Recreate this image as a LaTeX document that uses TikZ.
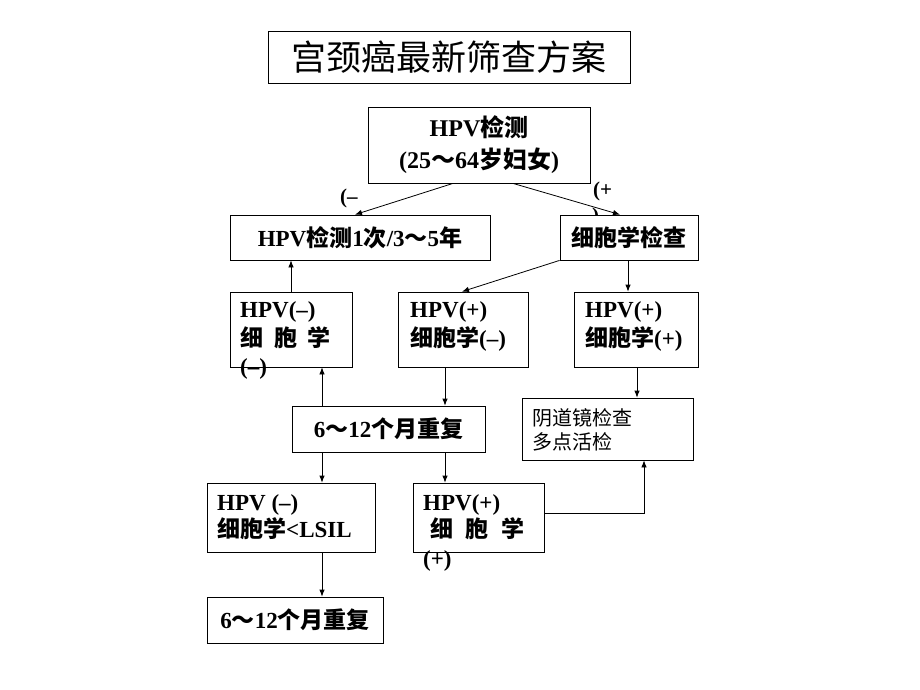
\documentclass[tikz,border=0pt]{standalone}
\usepackage{fontspec}
\setmainfont{Liberation Serif}
\newfontfamily\cjk{Noto Sans CJK SC}
\usetikzlibrary{arrows.meta}
\newcommand\zhs[1]{{\cjk #1}}
\tikzset{
  box/.style={draw, line width=0.8pt, fill=white, inner sep=0pt, align=center,
    font=\bfseries\fontsize{23}{29}\selectfont},
  txt/.style={anchor=base west, inner sep=0pt, font=\bfseries\fontsize{23}{29}\selectfont},
  lbl/.style={anchor=base west, inner sep=0pt, font=\bfseries\fontsize{21}{24}\selectfont},
  arr/.style={line width=0.8pt, -{Latex[length=7pt,width=5.5pt]}},
  ln/.style={line width=0.8pt}
}
\begin{document}
\begin{tikzpicture}[x=1pt,y=-1pt]
\useasboundingbox[fill=white] (0,0) rectangle (920,690);
% partial parenthesis peeking above box
\node[lbl] (pp) at (592,222) {)};
% boxes
\node[box, minimum width=362pt, minimum height=52pt, font=\fontsize{35}{40}\selectfont] (title) at (449,57) {\zhs{宫颈癌最新筛查方案}};
\node[box, minimum width=222pt, minimum height=76pt, font=\bfseries\fontsize{24}{32}\selectfont] (top) at (479,145) {HPV\zhs{检测}\\(25\zhs{～}64\zhs{岁妇女})};
\node[box, minimum width=260pt, minimum height=45pt] (b1) at (360,237.5) {HPV\zhs{检测}1\zhs{次}/3\zhs{～}5\zhs{年}};
\node[box, minimum width=138pt, minimum height=45pt] (b2) at (629,237.5) {\zhs{细胞学检查}};
\node[box, minimum width=122pt, minimum height=75pt] (r1) at (291,329.5) {};
\node[box, minimum width=130pt, minimum height=75pt] (r2) at (463,329.5) {};
\node[box, minimum width=124pt, minimum height=75pt] (r3) at (636,329.5) {};
\node[box, minimum width=193pt, minimum height=46pt] (rep1) at (388.5,429) {6\zhs{～}12\zhs{个月重复}};
\node[box, minimum width=171pt, minimum height=62pt] (col) at (607.5,429) {};
\node[box, minimum width=168pt, minimum height=69pt] (l1) at (291,517.5) {};
\node[box, minimum width=131pt, minimum height=69pt] (l2) at (478.5,517.5) {};
\node[box, minimum width=176pt, minimum height=46pt] (rep2) at (295,620) {6\zhs{～}12\zhs{个月重复}};
% texts in boxes
\node[txt] (t1a) at (240,317) {HPV(–)};
\node[txt] (t1b) at (240,346) {\zhs{细}\hspace{11pt}\zhs{胞}\hspace{10pt}\zhs{学}};
\node[txt] (t1c) at (240,374) {(–)};
\node[txt] (t2a) at (410,317) {HPV(+)};
\node[txt] (t2b) at (410,346) {\zhs{细胞学}(–)};
\node[txt] (t3a) at (585,317) {HPV(+)};
\node[txt] (t3b) at (585,346) {\zhs{细胞学}(+)};
\node[txt, font=\fontsize{20}{24}\selectfont] (tca) at (532,425) {\zhs{阴道镜检查}};
\node[txt, font=\fontsize{20}{24}\selectfont] (tcb) at (532,449) {\zhs{多点活检}};
\node[txt] (t4a) at (217,510) {HPV (–)};
\node[txt] (t4b) at (217,537) {\zhs{细胞学}<LSIL};
\node[txt] (t5a) at (423,510) {HPV(+)};
\node[txt] (t5b) at (430,537) {\zhs{细}\hspace{12pt}\zhs{胞}\hspace{13pt}\zhs{学}};
\node[txt] (t5c) at (423,566) {(+)};
% labels
\node[lbl] (lm) at (340,203) {(–};
\node[lbl] (lp) at (593,196) {(+};
% connectors
\draw[arr] ([xshift=-26pt]top.south) -- ([xshift=-5pt]b1.north);
\draw[arr] ([xshift=34pt]top.south) -- ([xshift=-9pt]b2.north);
\draw[arr] (r1.north) -- (b1.south -| r1.north);
\draw[arr] (b2.south west) -- ([xshift=-1pt]r2.north);
\draw[arr] ([xshift=-1pt]b2.south) coordinate (c1) -- (c1 |- r3.north);
\draw[arr] ([xshift=-66.5pt]rep1.north) coordinate (c2) -- (c2 |- r1.south);
\draw[arr] ([xshift=-18pt]r2.south) coordinate (c3) -- (c3 |- rep1.north);
\draw[arr] ([xshift=1pt]r3.south) coordinate (c4) -- (c4 |- col.north);
\draw[arr] ([xshift=-66.5pt]rep1.south) coordinate (c5) -- (c5 |- l1.north);
\draw[arr] ([xshift=56.5pt]rep1.south) coordinate (c6) -- (c6 |- l2.north);
\draw[arr] ([xshift=31pt]l1.south) coordinate (c7) -- (c7 |- rep2.north);
\draw[arr] ([yshift=4.5pt]l2.east) -| ([xshift=36.5pt]col.south);
\end{tikzpicture}
\end{document}
